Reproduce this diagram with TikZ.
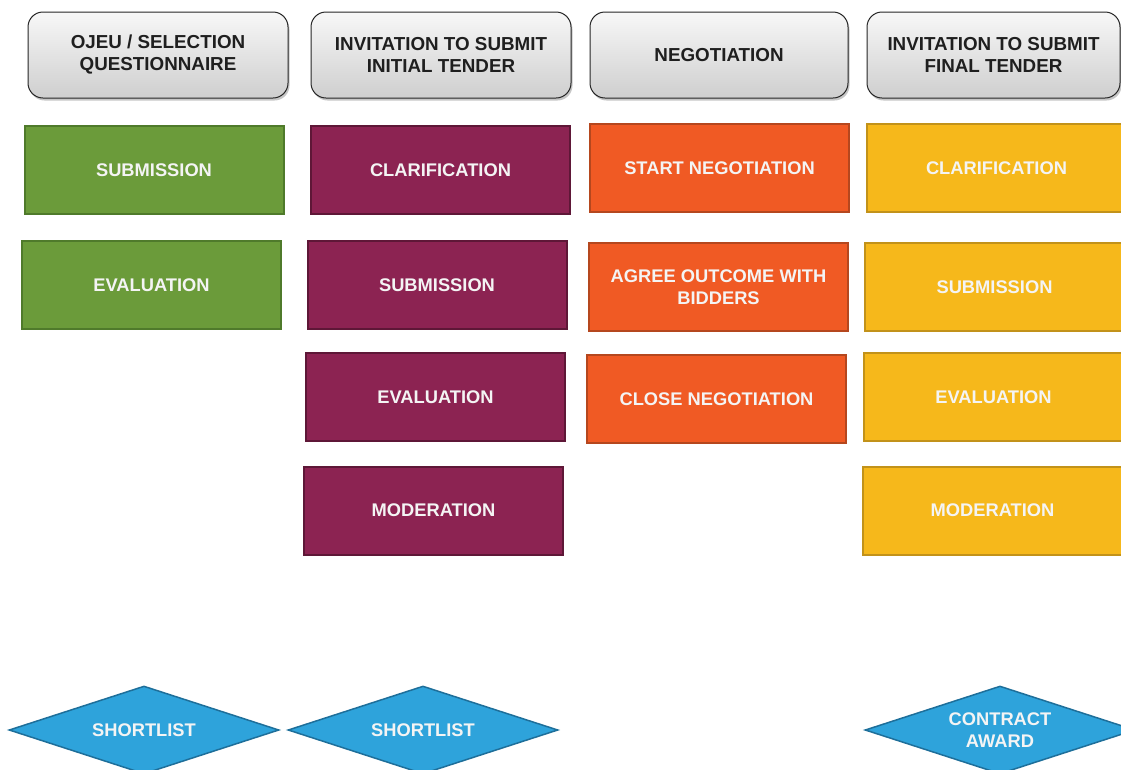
\documentclass[tikz,border=0pt]{standalone}
\usepackage{fontspec}
\setmainfont{Liberation Sans}
\usetikzlibrary{shapes.geometric,shadows}

% palette
\definecolor{grnfill}{HTML}{6B9B3A}
\definecolor{grnline}{HTML}{4F7A2B}
\definecolor{purfill}{HTML}{8C2352}
\definecolor{purline}{HTML}{5E1737}
\definecolor{orafill}{HTML}{F05A24}
\definecolor{oraline}{HTML}{B5471E}
\definecolor{yelfill}{HTML}{F6B81B}
\definecolor{yelline}{HTML}{C2921A}
\definecolor{blufill}{HTML}{2EA3DB}
\definecolor{bluline}{HTML}{1E6F9A}
\definecolor{boxtext}{HTML}{F4F4F4}
\definecolor{headtext}{HTML}{1F1F1F}

\tikzset{
  box font/.style={font=\fontsize{18.3}{22}\selectfont\bfseries, align=center},
  head font/.style={font=\fontsize{18.8}{22}\selectfont\bfseries, align=center},
  header/.style={head font, text=headtext, draw=black!85, line width=1pt,
    rounded corners=15pt, top color=gray!6, bottom color=gray!38,
    minimum height=86pt, inner sep=0pt,
    drop shadow={shadow xshift=1.5pt, shadow yshift=-2.5pt, opacity=0.45}},
  stepbox/.style={box font, text=boxtext, line width=2pt,
    minimum width=259pt, minimum height=88pt, inner sep=0pt},
  greenbox/.style={stepbox, fill=grnfill, draw=grnline},
  purplebox/.style={stepbox, fill=purfill, draw=purline},
  orangebox/.style={stepbox, fill=orafill, draw=oraline},
  yellowbox/.style={stepbox, fill=yelfill, draw=yelline},
  % the diamond keeps its own size; its caption sits on top as a centred label
  gate/.style={shape=diamond, fill=blufill, draw=bluline, line width=1.5pt,
    minimum width=270pt, minimum height=88pt, inner sep=0pt,
    label={[box font, text=boxtext]center:#1}}
}

\begin{document}
\begin{tikzpicture}[x=1pt,y=-1pt]
\useasboundingbox (0,0) rectangle (1121,769);
\clip (0,0) rectangle (1121,769);

% stage headers
\node[header, minimum width=260pt] (h1) at (158,55) {OJEU / SELECTION\\QUESTIONNAIRE};
\node[header, minimum width=260pt] (h2) at (441,55) {INVITATION TO SUBMIT\\INITIAL TENDER};
\node[header, minimum width=258pt] (h3) at (719,55) {NEGOTIATION};
\node[header, minimum width=253pt] (h4) at (993.5,55) {INVITATION TO SUBMIT\\FINAL TENDER};

% selection stage
\node[greenbox] (s1) at (154,170) {SUBMISSION};
\node[greenbox] (e1) at (151.5,285) {EVALUATION};

% initial tender stage
\node[purplebox] (c2) at (440.5,170) {CLARIFICATION};
\node[purplebox] (s2) at (437,285) {SUBMISSION};
\node[purplebox] (e2) at (435.5,397) {EVALUATION};
\node[purplebox] (m2) at (433.5,510.5) {MODERATION};

% negotiation stage
\node[orangebox] (n1) at (719.5,168) {START NEGOTIATION};
\node[orangebox] (n2) at (718.5,287) {AGREE OUTCOME WITH\\BIDDERS};
\node[orangebox] (n3) at (716.5,399) {CLOSE NEGOTIATION};

% final tender stage
\node[yellowbox] (c4) at (996.5,168) {CLARIFICATION};
\node[yellowbox] (s4) at (994.5,287) {SUBMISSION};
\node[yellowbox] (e4) at (993.5,397) {EVALUATION};
\node[yellowbox] (m4) at (992.5,510.5) {MODERATION};

% decision points
\node[gate={SHORTLIST}] (g1) at (144,730) {};
\node[gate={SHORTLIST}] (g2) at (423,730) {};
\node[gate={CONTRACT\\AWARD}] (g3) at (1000,730) {};
\end{tikzpicture}
\end{document}
